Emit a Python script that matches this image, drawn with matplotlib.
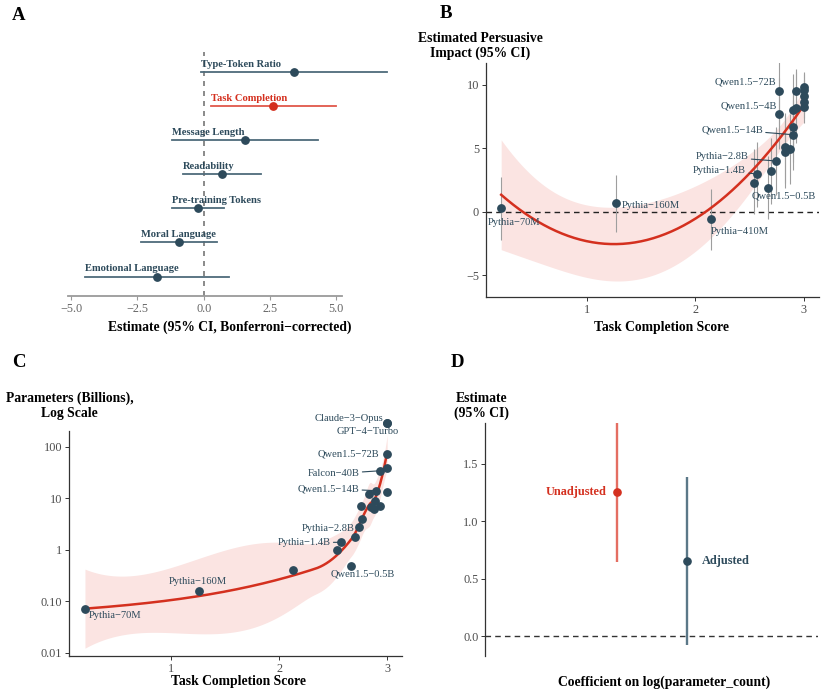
import numpy as np
import matplotlib
matplotlib.use('Agg')
import matplotlib.pyplot as plt

plt.rcParams['font.family'] = ['Liberation Serif', 'DejaVu Serif']

# ---- data -----------------------------------------------------------
# panel A : regression estimates
a_terms = ['Type-Token Ratio', 'Task Completion', 'Message Length', 'Readability',
           'Pre-training Tokens', 'Moral Language', 'Emotional Language']
a_est = [3.41, 2.63, 1.56, 0.70, -0.20, -0.93, -1.77]
a_lo = [-0.11, 0.29, -1.19, -0.77, -1.19, -2.36, -4.49]
a_hi = [6.93, 4.99, 4.30, 2.18, 0.78, 0.52, 0.97]

# panel B : persuasive impact by task completion
b_score = [0.21, 1.27, 2.14, 2.54, 2.57, 2.67, 2.70, 2.74, 2.83, 2.87, 2.83, 2.90,
           2.90, 2.77, 2.90, 2.93, 2.77, 2.93, 3.00, 3.00, 3.00, 3.00, 3.00]
b_est = [0.26, 0.71, -0.55, 2.30, 2.97, 1.90, 3.17, 4.00, 5.06, 4.96, 4.70, 6.06,
         6.70, 7.70, 8.00, 8.20, 9.47, 9.50, 9.80, 9.55, 9.10, 8.65, 8.25]
b_lo = [-2.2, -1.55, -3.0, -0.2, 0.4, -0.6, 0.6, 1.3, 2.3, 2.2, 1.9, 3.3,
        3.9, 4.9, 5.2, 5.4, 6.7, 7.8, 8.5, 8.3, 7.8, 7.4, 7.0]
b_hi = [2.7, 2.9, 1.8, 4.9, 5.5, 4.4, 5.8, 6.7, 7.8, 7.7, 7.5, 8.8,
        9.5, 10.5, 10.8, 11.0, 12.3, 11.2, 11.0, 10.8, 10.4, 9.9, 9.5]
b_label = ['Pythia\u221270M', 'Pythia\u2212160M', 'Pythia\u2212410M', '', 'Pythia\u22121.4B',
           'Qwen1.5\u22120.5B', '', 'Pythia\u22122.8B', '', '', '', 'Qwen1.5\u221214B',
           '', 'Qwen1.5\u22124B', '', '', 'Qwen1.5\u221272B', '', '', '', '', '', '']

# panel C : parameter count (billions) by task completion
c_score = [0.205, 1.26, 2.13, 2.67, 2.54, 2.57, 2.70, 2.74, 2.765, 3.00, 3.00,
           3.00, 2.93, 3.00, 2.90, 3.00, 2.83, 2.89, 2.76, 2.85, 2.93, 2.88]
c_params = [0.071, 0.158, 0.41, 0.49, 1.0, 1.39, 1.79, 2.8, 3.94, 290, 290,
            72, 34, 39, 14, 13, 12, 8.9, 7.0, 6.7, 7.1, 6.1]
c_label = ['Pythia\u221270M', 'Pythia\u2212160M', '', 'Qwen1.5\u22120.5B', '', 'Pythia\u22121.4B',
           '', 'Pythia\u22122.8B', '', 'Claude\u22123\u2212Opus', 'GPT\u22124\u2212Turbo',
           'Qwen1.5\u221272B', 'Falcon\u221240B', '', 'Qwen1.5\u221214B', '', '', '', '', '', '', '']

# panel D : coefficient on log(parameter_count)
d_model = ['Unadjusted', 'Adjusted']
d_est = [1.258, 0.658]
d_lo = [0.649, -0.075]
d_hi = [1.867, 1.388]

# ---- styles ---------------------------------------------------------
SLATE = '#2D4A5B'
SLATE_L = '#5B7888'
RED = '#D4301F'
RED_L = '#E46E62'
BAND = '#FBE4E2'
GREY = '#4D4D4D'

W, H = 830, 692
fig = plt.figure(figsize=(W / 100, H / 100), dpi=100)


def box(l, t, r, b):
    return [l / W, 1 - b / H, (r - l) / W, (b - t) / H]


def ftext(px, py, s, **kw):
    fig.text(px / W, 1 - py / H, s, **kw)


def style_axes(ax):
    for s in ['top', 'right']:
        ax.spines[s].set_visible(False)
    for s in ['left', 'bottom']:
        ax.spines[s].set_color('#333333')
        ax.spines[s].set_linewidth(0.9)
    ax.tick_params(direction='out', length=3, width=0.7, color='#333333',
                   labelsize=8.8, labelcolor=GREY, pad=2)


def t975(df):
    z = 1.959964
    return z + (z ** 3 + z) / (4 * df) + (5 * z ** 5 + 16 * z ** 3 + 3 * z) / (96 * df ** 2)


def loess(x, y, xg, span=0.75, cell=0.2):
    # local quadratic loess with kd-tree vertices + cubic hermite
    # interpolation, roughly what R's loess() does by default
    x = np.asarray(x, float)
    y = np.asarray(y, float)
    n = len(x)
    q = int(np.floor(span * n))
    fc = int(np.floor(n * span * cell))

    def local_rows(x0):
        d = np.abs(x - x0)
        h = np.sort(d)[q - 1]
        w = np.clip(1 - (d / h) ** 3, 0, None) ** 3
        X = np.column_stack([np.ones(n), x - x0, (x - x0) ** 2])
        XtW = X.T * w
        A = np.linalg.pinv(XtW @ X) @ XtW
        return A[0], A[1]

    mu = 0.005 * (x.max() - x.min())
    lo0, hi0 = x.min() - mu, x.max() + mu
    cells = []

    def split(lo, hi, xs):
        xs = np.sort(xs)
        if len(xs) <= fc or xs[-1] == xs[0]:
            cells.append((lo, hi))
            return
        m = (1 + len(xs)) // 2
        v = xs[m - 1] if len(xs) % 2 else (xs[m - 1] + xs[m]) / 2
        if v <= lo or v >= hi:
            cells.append((lo, hi))
            return
        split(lo, v, xs[:m])
        split(v, hi, xs[m:])

    split(lo0, hi0, x)
    verts = sorted(set([c[0] for c in cells] + [c[1] for c in cells]))
    vrow = {v: local_rows(v) for v in verts}

    def row(x0):
        for a, b in cells:
            if a <= x0 <= b:
                break
        hh = b - a
        t = (x0 - a) / hh
        h00 = 2 * t ** 3 - 3 * t ** 2 + 1
        h10 = t ** 3 - 2 * t ** 2 + t
        h01 = -2 * t ** 3 + 3 * t ** 2
        h11 = t ** 3 - t ** 2
        ra, sa = vrow[a]
        rb, sb = vrow[b]
        return h00 * ra + h10 * hh * sa + h01 * rb + h11 * hh * sb

    L = np.array([row(v) for v in x])
    M = np.eye(n) - L
    MM = M.T @ M
    d1 = np.trace(MM)
    d2 = np.trace(MM @ MM)
    sigma = np.sqrt(np.sum((M @ y) ** 2) / d1)
    rows = np.array([row(v) for v in xg])
    fit = rows @ y
    se = sigma * np.sqrt(np.sum(rows ** 2, axis=1))
    return fit, se, t975(d1 ** 2 / d2)


# ---- A --------------------------------------------------------------
axA = fig.add_axes(box(68, 52, 342, 296))
pos = np.arange(len(a_terms), 0, -1)
for p, t, e, lo, hi in zip(pos, a_terms, a_est, a_lo, a_hi):
    c = RED if t == 'Task Completion' else SLATE
    cl = '#E0574A' if t == 'Task Completion' else '#4E6B7B'
    axA.plot([lo, hi], [p, p], color=cl, lw=1.3, clip_on=False, zorder=3)
    axA.plot(e, p, 'o', color=c, ms=5.3, clip_on=False, zorder=4)
    axA.annotate(t, (lo, p), xytext=(0, 8), textcoords='offset pixels',
                 ha='left', va='center', fontsize=7.6, fontweight='bold', color=c)
axA.axvline(0, color='#777777', lw=1.2, ls=(0, (3, 3)), zorder=2)
axA.set_xlim(-5.12, 5.22)
axA.set_ylim(0.43, 7.59)
axA.set_xticks([-5, -2.5, 0, 2.5, 5])
axA.set_xticklabels(['\u22125.0', '\u22122.5', '0.0', '2.5', '5.0'])
axA.set_yticks([])
for s in ['top', 'right', 'left']:
    axA.spines[s].set_visible(False)
axA.spines['bottom'].set_color('#9A9A9A')
axA.spines['bottom'].set_linewidth(1.3)
axA.tick_params(axis='x', direction='out', length=3, color='#9A9A9A',
                labelsize=8.8, labelcolor='#666666', pad=2)
ftext(230, 327, 'Estimate (95% CI, Bonferroni\u2212corrected)', ha='center', va='center',
      fontsize=9.8, fontweight='bold')

# ---- B --------------------------------------------------------------
axB = fig.add_axes(box(486, 63, 819, 297))
style_axes(axB)
xb = np.array(b_score)
yb = np.array(b_est)
X = np.column_stack([np.ones_like(xb), xb, xb ** 2])
beta = np.linalg.lstsq(X, yb, rcond=None)[0]
sig2 = np.sum((yb - X @ beta) ** 2) / (len(xb) - 3)
cov = sig2 * np.linalg.inv(X.T @ X)
xg = np.linspace(xb.min(), xb.max(), 200)
Xg = np.column_stack([np.ones_like(xg), xg, xg ** 2])
fb = Xg @ beta
seb = np.sqrt(np.sum((Xg @ cov) * Xg, axis=1))
tb = 2.5
axB.fill_between(xg, fb - tb * seb, fb + tb * seb, color=BAND, lw=0, zorder=1)
axB.axhline(0, color='#222222', lw=1.0, ls=(0, (4, 3)), zorder=2)
axB.vlines(b_score, b_lo, b_hi, color='#9E9E9E', lw=0.8, zorder=2, clip_on=True)
axB.plot(xg, fb, color=RED, lw=1.8, zorder=3)
axB.plot(b_score, b_est, 'o', color=SLATE, ms=5.3, zorder=4)
b_off = {
    'Pythia\u221270M': (-13, -14, 'left', False),
    'Pythia\u2212160M': (6, -3, 'left', False),
    'Pythia\u2212410M': (0, -13, 'left', False),
    'Pythia\u22121.4B': (-11, 4, 'right', True),
    'Qwen1.5\u22120.5B': (16, -8, 'center', False),
    'Pythia\u22122.8B': (-27, 4, 'right', True),
    'Qwen1.5\u221214B': (-30, 5, 'right', True),
    'Qwen1.5\u22124B': (-2, 8, 'right', False),
    'Qwen1.5\u221272B': (-3, 9, 'right', False),
}
for x, y, lab in zip(b_score, b_est, b_label):
    if not lab:
        continue
    dx, dy, ha, seg = b_off[lab]
    axB.annotate(lab, (x, y), xytext=(dx, dy), textcoords='offset pixels',
                 ha=ha, va='center', fontsize=7.6, color=SLATE, zorder=5,
                 arrowprops=dict(arrowstyle='-', color=SLATE, lw=0.8,
                                 shrinkA=0, shrinkB=2) if seg else None)
axB.set_xlim(0.07, 3.14)
axB.set_ylim(-6.7, 11.7)
axB.set_xticks([1, 2, 3])
axB.set_yticks([-5, 0, 5, 10])
axB.set_yticklabels(['\u22125', '0', '5', '10'])
ftext(480.5, 46, 'Estimated Persuasive\nImpact (95% CI)', ha='center', va='center',
      fontsize=9.8, fontweight='bold', linespacing=1.15)
ftext(661, 327, 'Task Completion Score', ha='center', va='center', fontsize=9.8,
      fontweight='bold')

# ---- C --------------------------------------------------------------
axC = fig.add_axes(box(69.3, 430.7, 402.3, 656))
style_axes(axC)
axC.set_yscale('log')
xc = np.array(c_score)
lc = np.log10(c_params)
xg = np.linspace(xc.min(), xc.max(), 300)
fc, sec, tc = loess(xc, lc, xg)
axC.fill_between(xg, 10 ** (fc - tc * sec), 10 ** (fc + tc * sec), color=BAND,
                 lw=0, zorder=1)
axC.plot(xg, 10 ** fc, color=RED, lw=1.8, zorder=3)
axC.plot(c_score, c_params, 'o', color=SLATE, ms=5.3, zorder=4, clip_on=False)
c_off = {
    'Pythia\u221270M': (4, -7, 'left', False),
    'Pythia\u2212160M': (-1, 9, 'center', False),
    'Qwen1.5\u22120.5B': (11, -8, 'center', False),
    'Pythia\u22121.4B': (-10, 0, 'right', True),
    'Pythia\u22122.8B': (-4, -2, 'right', False),
    'Claude\u22123\u2212Opus': (-4, 4, 'right', False),
    'GPT\u22124\u2212Turbo': (12, -9, 'right', False),
    'Qwen1.5\u221272B': (-8, 0, 'right', False),
    'Falcon\u221240B': (-20, -3, 'right', True),
    'Qwen1.5\u221214B': (-17, 2, 'right', True),
}
for x, y, lab in zip(c_score, c_params, c_label):
    if not lab:
        continue
    dx, dy, ha, seg = c_off[lab]
    axC.annotate(lab, (x, y), xytext=(dx, dy), textcoords='offset pixels',
                 ha=ha, va='center', fontsize=7.6, color=SLATE, zorder=5,
                 annotation_clip=False,
                 arrowprops=dict(arrowstyle='-', color=SLATE, lw=0.8,
                                 shrinkA=0, shrinkB=2) if seg else None)
axC.set_xlim(0.06, 3.14)
axC.set_ylim(10 ** -2.064, 10 ** 2.31)
axC.set_xticks([1, 2, 3])
axC.set_yticks([0.01, 0.1, 1, 10, 100])
axC.set_yticklabels(['0.01', '0.10', '1', '10', '100'])
axC.minorticks_off()
ftext(69.5, 406, 'Parameters (Billions),\nLog Scale', ha='center', va='center',
      fontsize=9.8, fontweight='bold', linespacing=1.15)
ftext(238, 682, 'Task Completion Score', ha='center', va='center', fontsize=9.8,
      fontweight='bold')

# ---- D --------------------------------------------------------------
axD = fig.add_axes(box(485.3, 423.3, 818, 656))
style_axes(axD)
axD.spines['bottom'].set_visible(False)
xd = [1, 2]
cols = [RED, SLATE]
cols_l = [RED_L, SLATE_L]
axD.axhline(0, color='#333333', lw=1.0, ls=(0, (4, 3)), zorder=1)
for x, m, e, lo, hi, c, cl in zip(xd, d_model, d_est, d_lo, d_hi, cols, cols_l):
    axD.plot([x, x], [lo, hi], color=cl, lw=1.7, zorder=2, solid_capstyle='butt')
    axD.plot(x, e, 'o', color=c, ms=5.2, zorder=3)
    if m == 'Unadjusted':
        axD.annotate(m, (x, e), xytext=(-10, 0), textcoords='offset pixels',
                     ha='right', va='center', fontsize=8.8, fontweight='bold', color=c)
    else:
        axD.annotate(m, (x, e), xytext=(15, 0), textcoords='offset pixels',
                     ha='left', va='center', fontsize=8.8, fontweight='bold', color=c)
axD.set_xlim(1.5 - 2.37, 1.5 + 2.37)
axD.set_ylim(-0.171, 1.852)
axD.set_xticks([])
axD.set_yticks([0, 0.5, 1.0, 1.5])
axD.set_yticklabels(['0.0', '0.5', '1.0', '1.5'])
ftext(481.7, 406, 'Estimate\n(95% CI)', ha='center', va='center', fontsize=9.8,
      fontweight='bold', linespacing=1.15)
ftext(664, 682, 'Coefficient on log(parameter_count)', ha='center', va='center',
      fontsize=9.8, fontweight='bold')

# ---- panel letters ------------------------------------------------------
for px, py, s in [(12, 15, 'A'), (440, 14, 'B'), (12, 363, 'C'), (451, 363, 'D')]:
    ftext(px, py, s, ha='left', va='center', fontsize=13.5, fontweight='bold')

fig.savefig('out.png', dpi=100)
